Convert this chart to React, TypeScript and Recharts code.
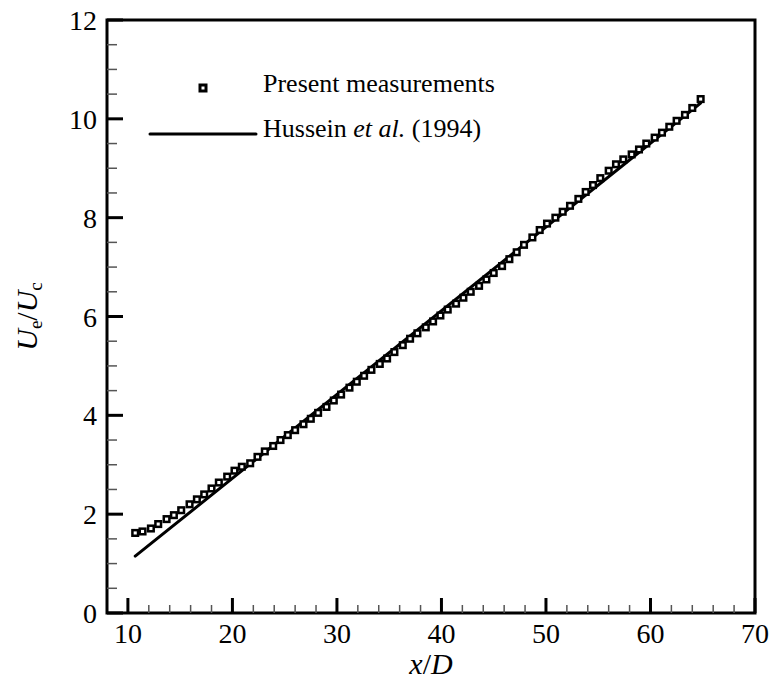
import {
  ComposedChart,
  Line,
  Scatter,
  XAxis,
  YAxis,
  ReferenceArea,
  Legend,
} from "recharts";

const FONT = "'Liberation Serif', 'Times New Roman', serif";

const measX = [
  10.7, 11.4, 12.2, 12.9, 13.7, 14.4, 15.1, 15.9, 16.6, 17.3, 18.0, 18.7, 19.5, 20.2, 20.9,
  21.7, 22.4, 23.1, 23.9, 24.6, 25.3, 26.0, 26.8, 27.5, 28.2, 29.0, 29.7, 30.4, 31.2, 31.9,
  32.6, 33.3, 34.1, 34.8, 35.5, 36.3, 37.0, 37.7, 38.5, 39.2, 39.9, 40.6, 41.4, 42.1, 42.8,
  43.6, 44.3, 45.0, 45.8, 46.5, 47.2, 47.9, 48.7, 49.4, 50.1, 50.9, 51.6, 52.3, 53.1, 53.8,
  54.5, 55.2, 56.0, 56.7, 57.4, 58.2, 58.9, 59.6, 60.4, 61.1, 61.8, 62.5, 63.3, 64.0, 64.8,
];
const measY = [
  1.62, 1.65, 1.71, 1.8, 1.9, 1.98, 2.08, 2.2, 2.3, 2.4, 2.52, 2.64, 2.76, 2.88, 2.96,
  3.03, 3.16, 3.27, 3.38, 3.5, 3.6, 3.7, 3.82, 3.93, 4.05, 4.17, 4.3, 4.42, 4.56, 4.68,
  4.8, 4.92, 5.04, 5.15, 5.28, 5.42, 5.55, 5.66, 5.78, 5.9, 6.02, 6.14, 6.26, 6.38, 6.5,
  6.62, 6.75, 6.88, 7.02, 7.16, 7.3, 7.45, 7.6, 7.75, 7.88, 8.0, 8.12, 8.24, 8.38, 8.52,
  8.66, 8.8, 8.95, 9.08, 9.18, 9.28, 9.38, 9.5, 9.62, 9.72, 9.84, 9.96, 10.08, 10.22, 10.4,
];

// Hussein et al. (1994), straight line end points
const husseinX = [10.7, 64.8];
const husseinY = [1.15, 10.32];

const xMajor = [10, 20, 30, 40, 50, 60, 70];
const xMinor = [
  12, 14, 16, 18, 22, 24, 26, 28, 32, 34, 36, 38, 42, 44, 46, 48, 52, 54, 56, 58, 62, 64, 66, 68,
];
const yMajor = [0, 2, 4, 6, 8, 10, 12];
const yMinor = [
  0.5, 1, 1.5, 2.5, 3, 3.5, 4.5, 5, 5.5, 6.5, 7, 7.5, 8.5, 9, 9.5, 10.5, 11, 11.5,
];

const measData = measX.map((x, i) => ({ x, y: measY[i] }));
const husseinData = husseinX.map((x, i) => ({ x, y: husseinY[i] }));

const XTick = (props: any) => {
  const { x, y, payload } = props;
  const major = xMajor.includes(payload.value);
  return (
    <g>
      <line
        x1={x}
        y1={y}
        x2={x}
        y2={y - (major ? 15 : 8)}
        stroke={major ? "#000" : "#555"}
        strokeWidth={major ? 3 : 1.5}
      />
      {major && (
        <text x={x} y={y + 30} textAnchor="middle" fontSize={28} fontFamily={FONT} fill="#000">
          {payload.value}
        </text>
      )}
    </g>
  );
};

const YTick = (props: any) => {
  const { x, y, payload } = props;
  const major = yMajor.includes(payload.value);
  return (
    <g>
      <line
        x1={x}
        y1={y}
        x2={x + (major ? 16 : 10)}
        y2={y}
        stroke={major ? "#000" : "#555"}
        strokeWidth={major ? 3 : 1.5}
      />
      {major && (
        <text x={x - 10} y={y + 10} textAnchor="end" fontSize={28} fontFamily={FONT} fill="#000">
          {payload.value}
        </text>
      )}
    </g>
  );
};

const XTitle = ({ viewBox }: any) => (
  <text
    x={viewBox.x + viewBox.width / 2}
    y={viewBox.y + 61}
    textAnchor="middle"
    fontSize={30}
    fontFamily={FONT}
    fill="#000"
  >
    <tspan fontStyle="italic">x</tspan>/<tspan fontStyle="italic">D</tspan>
  </text>
);

const YTitle = ({ viewBox }: any) => {
  const cx = viewBox.x + 37;
  const cy = viewBox.y + viewBox.height / 2;
  return (
    <text
      transform={`translate(${cx},${cy}) rotate(-90)`}
      textAnchor="middle"
      fontSize={30}
      fontFamily={FONT}
      fill="#000"
    >
      <tspan fontStyle="italic">U</tspan>
      <tspan fontSize={19} dy={5}>e</tspan>
      <tspan dy={-5}>/</tspan>
      <tspan fontStyle="italic">U</tspan>
      <tspan fontSize={19} dy={5}>c</tspan>
    </text>
  );
};

const Square = (props: any) => {
  const { cx, cy } = props;
  return (
    <rect
      x={cx - 2.8}
      y={cy - 2.8}
      width={5.6}
      height={5.6}
      fill="#fff"
      stroke="#000"
      strokeWidth={2.5}
    />
  );
};

const LegendBox = () => (
  <svg width={420} height={90} style={{ display: "block", overflow: "visible" }}>
    <rect x={60} y={25} width={6} height={6} fill="#fff" stroke="#000" strokeWidth={3} />
    <text x={123} y={32} fontSize={26} fontFamily={FONT} fill="#000">
      Present measurements
    </text>
    <line x1={10} y1={74} x2={116} y2={74} stroke="#000" strokeWidth={3} strokeLinecap="round" />
    <text x={123} y={77} fontSize={26} fontFamily={FONT} fill="#000">
      Hussein <tspan fontStyle="italic">et al.</tspan> (1994)
    </text>
  </svg>
);

export default function App() {
  return (
    <div style={{ position: "absolute", left: 0, top: 0, background: "#fff" }}>
      <ComposedChart width={774} height={690} margin={{ top: 20, right: 19, bottom: 0, left: 0 }}>
        <XAxis
          dataKey="x"
          type="number"
          domain={[8, 70]}
          ticks={[...xMajor, ...xMinor].sort((a, b) => a - b)}
          interval={0}
          tick={XTick}
          tickSize={0}
          tickMargin={0}
          tickLine={false}
          axisLine={false}
          height={77}
          allowDataOverflow
          label={<XTitle />}
        />
        <YAxis
          dataKey="y"
          type="number"
          domain={[0, 12]}
          ticks={[...yMajor, ...yMinor].sort((a, b) => a - b)}
          interval={0}
          tick={YTick}
          tickSize={0}
          tickMargin={0}
          tickLine={false}
          axisLine={false}
          width={107}
          allowDataOverflow
          label={<YTitle />}
        />
        <ReferenceArea
          x1={8}
          x2={70}
          y1={0}
          y2={12}
          fill="none"
          stroke="#000"
          strokeWidth={3}
          ifOverflow="visible"
        />
        <Line
          data={husseinData}
          dataKey="y"
          stroke="#000"
          strokeWidth={3}
          strokeLinecap="round"
          dot={false}
          isAnimationActive={false}
        />
        <Scatter data={measData} dataKey="y" shape={Square} isAnimationActive={false} />
        <Legend
          layout="horizontal"
          verticalAlign="middle"
          align="center"
          wrapperStyle={{ left: 140, top: 60, width: 420 }}
          content={() => <LegendBox />}
        />
      </ComposedChart>
    </div>
  );
}
